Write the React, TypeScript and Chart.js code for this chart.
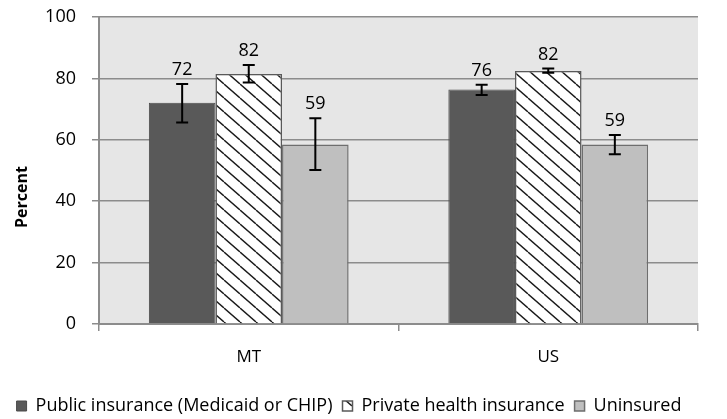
import React, { useEffect, useRef } from "react";
import { Chart, registerables } from "chart.js";

Chart.register(...registerables);

const categories = ["MT", "US"];
const seriesNames = ["Public insurance (Medicaid or CHIP)", "Private health insurance", "Uninsured"];
const publicValues = [72.1, 76.4];
const publicLow = [65.6, 74.6];
const publicHigh = [78.2, 77.9];
const publicLabels = ["72", "76"];
const privateValues = [81.4, 82.4];
const privateLow = [78.7, 81.8];
const privateHigh = [84.4, 83.2];
const privateLabels = ["82", "82"];
const uninsuredValues = [58.5, 58.5];
const uninsuredLow = [50.2, 55.3];
const uninsuredHigh = [67.0, 61.6];
const uninsuredLabels = ["59", "59"];
const yTicks = [0, 20, 40, 60, 80, 100];
const yTitle = "Percent";

const FONT = "'Open Sans', sans-serif";

function makeHatch(): CanvasPattern | string {
  const w = 16, h = 14;
  const c = document.createElement("canvas");
  c.width = w;
  c.height = h;
  const ctx = c.getContext("2d");
  if (!ctx) return "#fff";
  ctx.fillStyle = "#ffffff";
  ctx.fillRect(0, 0, w, h);
  ctx.strokeStyle = "#1a1a1a";
  ctx.lineWidth = 1.4;
  for (const dx of [-w, 0, w]) {
    ctx.beginPath();
    ctx.moveTo(dx, 0);
    ctx.lineTo(dx + w, h);
    ctx.stroke();
  }
  const p = ctx.createPattern(c, "repeat");
  return p || "#fff";
}

const bgPlugin = {
  id: "plotBg",
  beforeDraw(chart: any) {
    const { ctx, chartArea } = chart;
    ctx.save();
    ctx.fillStyle = "#e6e6e6";
    ctx.fillRect(chartArea.left, chartArea.top, chartArea.right - chartArea.left, chartArea.bottom - chartArea.top);
    ctx.restore();
  },
  afterDraw(chart: any) {
    const { ctx } = chart;
    ctx.save();
    ctx.translate(22, 197);
    ctx.rotate(-Math.PI / 2);
    ctx.fillStyle = "#000";
    ctx.font = `bold 16px ${FONT}`;
    ctx.textAlign = "center";
    ctx.textBaseline = "middle";
    ctx.fillText(yTitle, 0, 0);
    ctx.restore();
  },
};

const errPlugin = {
  id: "errBars",
  afterDatasetsDraw(chart: any) {
    const { ctx } = chart;
    const y = chart.scales.y;
    chart.data.datasets.forEach((ds: any, di: number) => {
      const meta = chart.getDatasetMeta(di);
      meta.data.forEach((bar: any, i: number) => {
        const x = bar.x;
        const yl = y.getPixelForValue(ds.errLow[i]);
        const yh = y.getPixelForValue(ds.errHigh[i]);
        ctx.save();
        ctx.strokeStyle = "#000";
        ctx.lineWidth = 2;
        ctx.beginPath();
        ctx.moveTo(x, yl);
        ctx.lineTo(x, yh);
        ctx.moveTo(x - 6, yl);
        ctx.lineTo(x + 6, yl);
        ctx.moveTo(x - 6, yh);
        ctx.lineTo(x + 6, yh);
        ctx.stroke();
        ctx.fillStyle = "#000";
        ctx.font = `18px ${FONT}`;
        ctx.textAlign = "center";
        ctx.textBaseline = "alphabetic";
        ctx.fillText(ds.valueLabels[i], x, yh - 9);
        ctx.restore();
      });
    });
  },
};

export default function App() {
  const ref = useRef<HTMLCanvasElement>(null);
  useEffect(() => {
    if (!ref.current) return;
    const hatch = makeHatch();
    const chart = new Chart(ref.current, {
      type: "bar",
      data: {
        labels: categories,
        datasets: [
          {
            label: seriesNames[0],
            data: publicValues,
            backgroundColor: "#595959",
            borderColor: "#4a4a4a",
            borderWidth: 1,
            errLow: publicLow,
            errHigh: publicHigh,
            valueLabels: publicLabels,
          } as any,
          {
            label: seriesNames[1],
            data: privateValues,
            backgroundColor: hatch,
            borderColor: "#595959",
            borderWidth: 1.5,
            errLow: privateLow,
            errHigh: privateHigh,
            valueLabels: privateLabels,
          } as any,
          {
            label: seriesNames[2],
            data: uninsuredValues,
            backgroundColor: "#bfbfbf",
            borderColor: "#6e6e6e",
            borderWidth: 1.5,
            errLow: uninsuredLow,
            errHigh: uninsuredHigh,
            valueLabels: uninsuredLabels,
          } as any,
        ],
      },
      options: {
        responsive: false,
        animation: false,
        layout: { padding: { top: 17, right: 29, left: 0, bottom: -6 } },
        datasets: { bar: { categoryPercentage: 0.667, barPercentage: 1 } },
        plugins: {
          tooltip: { enabled: false },
          legend: {
            position: "bottom",
            labels: {
              font: { family: FONT, size: 18 },
              color: "#000",
              boxWidth: 10,
              boxHeight: 10,
              padding: 10,
            },
          },
        },
        scales: {
          x: {
            grid: { drawOnChartArea: false, drawTicks: true, tickLength: 7, color: "#8c8c8c", lineWidth: 1.5, offset: true },
            border: { color: "#8c8c8c", width: 2 },
            ticks: { font: { family: FONT, size: 17 }, color: "#000", padding: 16 },
            afterFit: (s: any) => { s.height = 63; s.paddingLeft = 0; s.paddingRight = 0; },
          },
          y: {
            min: 0,
            max: 100,
            afterBuildTicks: (s: any) => { s.ticks = yTicks.map((v) => ({ value: v })); },
            grid: { color: "#8c8c8c", lineWidth: 1.5, tickLength: 7 },
            border: { color: "#8c8c8c", width: 2 },
            ticks: { font: { family: FONT, size: 18 }, color: "#000", padding: 16 },
            afterFit: (s: any) => { s.width = 99; s.paddingTop = 0; s.paddingBottom = 0; },
          },
        },
      },
      plugins: [bgPlugin, errPlugin],
    });
    return () => chart.destroy();
  }, []);
  return (
    <div style={{ position: "fixed", left: 0, top: 0, width: 727, height: 419, background: "#fff" }}>
      <canvas ref={ref} width={727} height={419} />
    </div>
  );
}
